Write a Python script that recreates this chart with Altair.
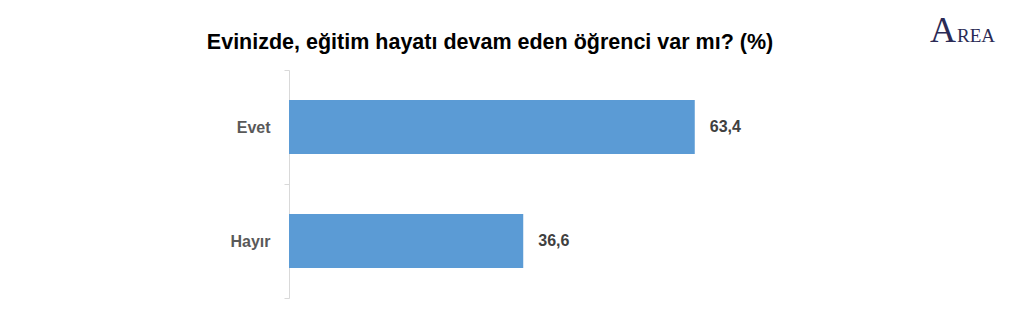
import altair as alt
import pandas as pd

categories = ["Evet", "Hayır"]
values = [63.4, 36.6]
labels = ["63,4", "36,6"]

df = pd.DataFrame({"cat": categories, "val": values, "lab": labels})

W, H = 640, 228
LEFT, TOP = 289, 70

base = alt.Chart(df)

bars = base.mark_bar(color="#5B9BD5", size=54).encode(
    y=alt.Y("cat:N", sort=categories, title=None,
            scale=alt.Scale(paddingInner=0, paddingOuter=0),
            axis=alt.Axis(labelFont="Liberation Sans", labelFontSize=16, labelFontWeight="bold",
                          labelColor="#595959", labelPadding=14, tickSize=5, tickColor="#d9d9d9",
                          domainColor="#d9d9d9", tickBand="extent")),
    x=alt.X("val:Q", scale=alt.Scale(domain=[0, 99.5]), axis=None),
)

txt = base.mark_text(align="left", baseline="middle", dx=15, font="Liberation Sans",
                     fontSize=16, fontWeight="bold", color="#404040").encode(
    y=alt.Y("cat:N", sort=categories),
    x="val:Q",
    text="lab:N",
)

title = alt.Chart(pd.DataFrame({"t": ["Evinizde, eğitim hayatı devam eden öğrenci var mı? (%)"]})).mark_text(
    font="Liberation Sans", fontSize=21.5, fontWeight="bold", color="#000000",
    align="center", baseline="middle").encode(
    x=alt.value(490 - LEFT), y=alt.value(43 - TOP), text="t:N")

logoA = alt.Chart(pd.DataFrame({"t": ["A"]})).mark_text(
    font="Liberation Serif", fontSize=36, color="#2b2b55", align="left", baseline="alphabetic").encode(
    x=alt.value(930 - LEFT), y=alt.value(42 - TOP), text="t:N")
logoR = alt.Chart(pd.DataFrame({"t": ["REA"]})).mark_text(
    font="Liberation Serif", fontSize=19, color="#2b2b55", align="left", baseline="alphabetic").encode(
    x=alt.value(957 - LEFT), y=alt.value(42 - TOP), text="t:N")

chart = alt.layer(bars, txt, title, logoA, logoR).properties(
    width=W, height=H,
    autosize=alt.AutoSizeParams(type="none"),
    padding={"left": LEFT, "top": TOP, "right": 1028 - LEFT - W, "bottom": 313 - TOP - H},
).configure_view(stroke=None)

chart.save("out.html", embed_options={"renderer": "svg", "actions": False})
